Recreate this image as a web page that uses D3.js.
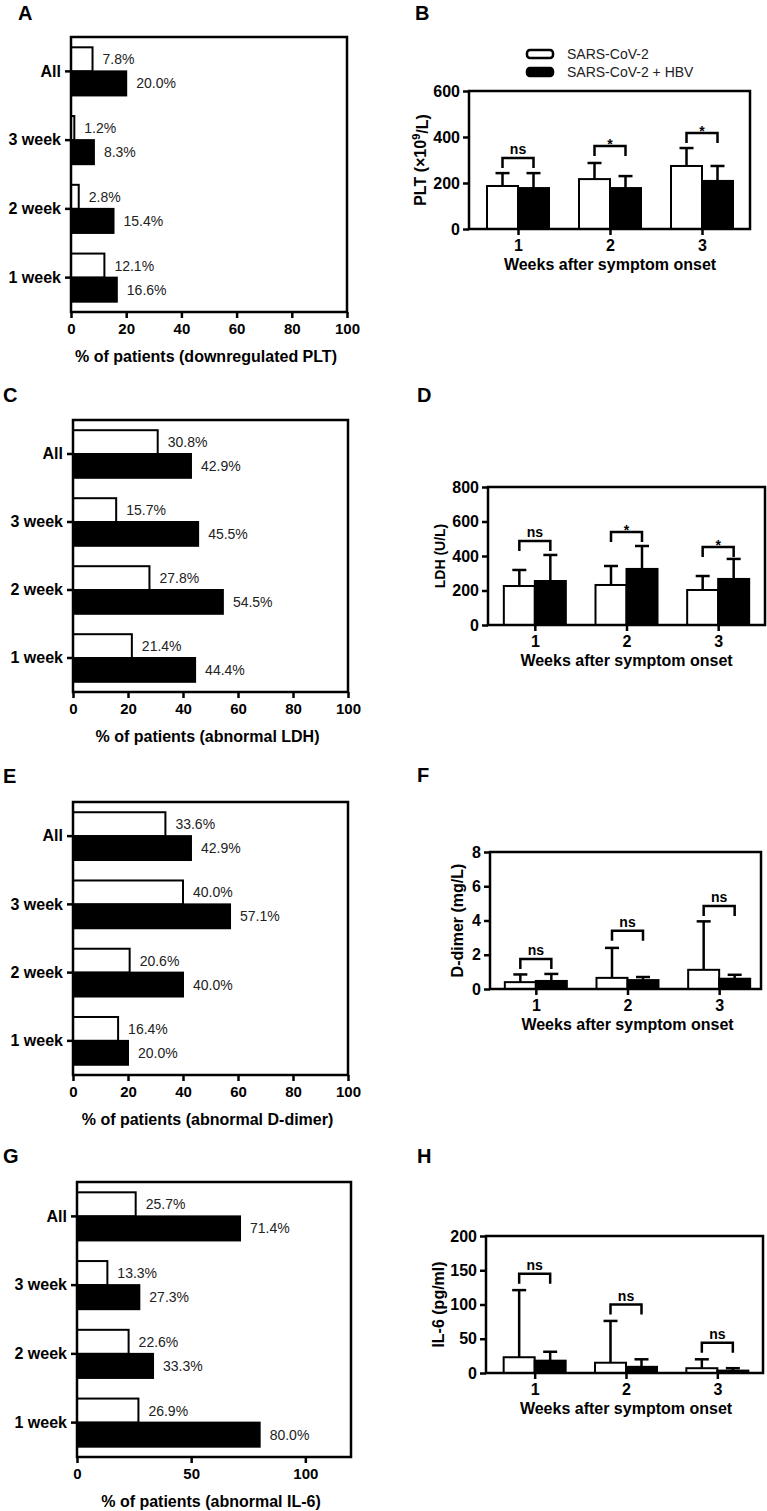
<!DOCTYPE html>
<html>
<head>
<meta charset="utf-8">
<script src="https://cdn.jsdelivr.net/npm/d3@7"></script>
<style>
body { margin: 0; background: #fff; }
svg text { font-family: "Liberation Sans", Arial, Helvetica, sans-serif; }
</style>
</head>
<body>
<svg id="fig" width="767" height="1511"></svg>
<script>
// categories
const weekCats = ["All", "3 week", "2 week", "1 week"];
const weeks = [1, 2, 3];
const groups = ["SARS-CoV-2", "SARS-CoV-2 + HBV"];

// % of patients with abnormal values (white = SARS-CoV-2, black = + HBV)
const pltPctCov = [7.8, 1.2, 2.8, 12.1];
const pltPctHbv = [20.0, 8.3, 15.4, 16.6];
const ldhPctCov = [30.8, 15.7, 27.8, 21.4];
const ldhPctHbv = [42.9, 45.5, 54.5, 44.4];
const ddPctCov = [33.6, 40.0, 20.6, 16.4];
const ddPctHbv = [42.9, 57.1, 40.0, 20.0];
const il6PctCov = [25.7, 13.3, 22.6, 26.9];
const il6PctHbv = [71.4, 27.3, 33.3, 80.0];

// mean and SD by week
const pltCovMean = [187, 217, 274], pltCovSd = [56, 70, 78];
const pltHbvMean = [178, 178, 209], pltHbvSd = [65, 52, 65];
const ldhCovMean = [226, 232, 203], ldhCovSd = [93, 110, 81];
const ldhHbvMean = [255, 325, 267], ldhHbvSd = [151, 133, 116];
const ddCovMean = [0.4, 0.65, 1.12], ddCovSd = [0.45, 1.75, 2.83];
const ddHbvMean = [0.47, 0.52, 0.6], ddHbvSd = [0.41, 0.18, 0.23];
const il6CovMean = [23, 15, 7], il6CovSd = [98, 61, 13];
const il6HbvMean = [18, 9, 3.5], il6HbvSd = [13, 11, 3.5];

// significance marks and bracket heights (data units)
const pltSig = ["ns", "*", "*"], pltBracket = [309, 361, 417];
const ldhSig = ["ns", "*", "*"], ldhBracket = [487, 539, 452];
const ddSig = ["ns", "ns", "ns"], ddBracket = [1.75, 3.4, 4.85];
const il6Sig = ["ns", "ns", "ns"], il6Bracket = [145, 100, 44];

// axis ticks
const pctTicks = [0, 20, 40, 60, 80, 100];
const il6PctTicks = [0, 50, 100];
const pltTicks = [0, 200, 400, 600];
const ldhTicks = [0, 200, 400, 600, 800];
const ddTicks = [0, 2, 4, 6, 8];
const il6Ticks = [0, 50, 100, 150, 200];

const svg = d3.select("#fig");
const LW = 2.5;

function letter(t, x, y) {
    svg.append("text").attr("x", x).attr("y", y)
        .attr("font-size", 20).attr("font-weight", "bold").text(t);
}

// horizontal percentage bars
function hbar(p) {
    const g = svg.append("g");
    const x = d3.scaleLinear().domain([0, p.max]).range([p.x0, p.x1]);
    const y = d3.scaleBand().domain(weekCats).range([p.y0, p.y1])
        .paddingInner(0.3).paddingOuter(0.15);
    const bh = y.bandwidth() / 2;

    const rows = weekCats.map((c, i) => ({ c, a: p.cov[i], b: p.hbv[i] }));

    g.selectAll(".wb").data(rows).join("rect")
        .attr("x", x(0)).attr("y", d => y(d.c))
        .attr("width", d => x(d.a) - x(0)).attr("height", bh)
        .attr("fill", "#fff").attr("stroke", "#000").attr("stroke-width", 2);
    g.selectAll(".bb").data(rows).join("rect")
        .attr("x", x(0)).attr("y", d => y(d.c) + bh)
        .attr("width", d => x(d.b) - x(0)).attr("height", bh)
        .attr("fill", "#000").attr("stroke", "#000").attr("stroke-width", 2);

    g.selectAll(".wl").data(rows).join("text")
        .attr("x", d => x(d.a) + 10).attr("y", d => y(d.c) + bh / 2)
        .attr("dy", "0.36em").attr("font-size", 14).attr("fill", "#222")
        .text(d => d.a.toFixed(1) + "%");
    g.selectAll(".bl").data(rows).join("text")
        .attr("x", d => x(d.b) + 10).attr("y", d => y(d.c) + bh * 1.5)
        .attr("dy", "0.36em").attr("font-size", 14).attr("fill", "#222")
        .text(d => d.b.toFixed(1) + "%");

    g.append("rect").attr("x", p.x0).attr("y", p.y0)
        .attr("width", p.x1 - p.x0).attr("height", p.y1 - p.y0)
        .attr("fill", "none").attr("stroke", "#000").attr("stroke-width", LW);

    const xa = g.append("g").attr("transform", `translate(0,${p.y1})`)
        .call(d3.axisBottom(x).tickValues(p.ticks).tickSize(6).tickPadding(5));
    const ya = g.append("g").attr("transform", `translate(${p.x0},0)`)
        .call(d3.axisLeft(y).tickSize(6).tickPadding(4));
    [xa, ya].forEach(a => {
        a.select(".domain").remove();
        a.selectAll("line").attr("stroke-width", LW);
        a.selectAll("text").attr("font-size", 15).attr("font-weight", "bold")
            .attr("fill", "#000").attr("font-family", null);
    });
    ya.selectAll("text").attr("font-size", 16);

    g.append("text").attr("x", (p.x0 + p.x1) / 2 - 3).attr("y", p.y1 + 50)
        .attr("text-anchor", "middle").attr("font-size", 16)
        .attr("font-weight", "bold").text(p.title);
}

// vertical mean + SD bars
function vbar(p) {
    const g = svg.append("g");
    const x = d3.scalePoint().domain(weeks).range(p.xr).padding(0.5);
    const y = d3.scaleLinear().domain([0, p.ymax]).range([p.y1, p.y0]);
    const bw = 31;

    const rows = weeks.map((w, i) => ({
        w, am: p.covM[i], as: p.covS[i], bm: p.hbvM[i], bs: p.hbvS[i],
        sig: p.sig[i], br: p.br[i]
    }));

    // error bars (upper only)
    const err = [];
    rows.forEach(d => {
        err.push({ cx: x(d.w) - bw / 2, m: d.am, s: d.as });
        err.push({ cx: x(d.w) + bw / 2, m: d.bm, s: d.bs });
    });
    g.selectAll(".ev").data(err).join("line")
        .attr("x1", d => d.cx).attr("x2", d => d.cx)
        .attr("y1", d => y(d.m)).attr("y2", d => y(d.m + d.s))
        .attr("stroke", "#000").attr("stroke-width", LW);
    g.selectAll(".ec").data(err).join("line")
        .attr("x1", d => d.cx - 7).attr("x2", d => d.cx + 7)
        .attr("y1", d => y(d.m + d.s)).attr("y2", d => y(d.m + d.s))
        .attr("stroke", "#000").attr("stroke-width", LW);

    g.selectAll(".wb").data(rows).join("rect")
        .attr("x", d => x(d.w) - bw).attr("y", d => y(d.am))
        .attr("width", bw).attr("height", d => y(0) - y(d.am))
        .attr("fill", "#fff").attr("stroke", "#000").attr("stroke-width", 2);
    g.selectAll(".bb").data(rows).join("rect")
        .attr("x", d => x(d.w)).attr("y", d => y(d.bm))
        .attr("width", bw).attr("height", d => y(0) - y(d.bm))
        .attr("fill", "#000").attr("stroke", "#000").attr("stroke-width", 2);

    // significance brackets
    g.selectAll(".br").data(rows).join("path")
        .attr("d", d => {
            const yy = y(d.br), a = x(d.w) - bw / 2, b = x(d.w) + bw / 2;
            return `M${a},${yy + 10}V${yy}H${b}V${yy + 10}`;
        })
        .attr("fill", "none").attr("stroke", "#000").attr("stroke-width", LW);
    g.selectAll(".sg").data(rows).join("text")
        .attr("x", d => x(d.w)).attr("y", d => y(d.br) + (d.sig === "*" ? 3 : -4))
        .attr("text-anchor", "middle").attr("font-size", 14)
        .attr("font-weight", "bold").text(d => d.sig);

    g.append("rect").attr("x", p.x0).attr("y", p.y0)
        .attr("width", p.x1 - p.x0).attr("height", p.y1 - p.y0)
        .attr("fill", "none").attr("stroke", "#000").attr("stroke-width", LW);

    const xa = g.append("g").attr("transform", `translate(0,${p.y1})`)
        .call(d3.axisBottom(x).tickSize(6).tickPadding(5));
    const ya = g.append("g").attr("transform", `translate(${p.x0},0)`)
        .call(d3.axisLeft(y).tickValues(p.ticks).tickSize(6).tickPadding(3));
    [xa, ya].forEach(a => {
        a.select(".domain").remove();
        a.selectAll("line").attr("stroke-width", LW);
        a.selectAll("text").attr("font-size", 16).attr("font-weight", "bold")
            .attr("fill", "#000").attr("font-family", null);
    });

    g.append("text").attr("x", (p.xr[0] + p.xr[1]) / 2).attr("y", p.y1 + 41)
        .attr("text-anchor", "middle").attr("font-size", 16)
        .attr("font-weight", "bold").text("Weeks after symptom onset");

    const yl = g.append("text")
        .attr("transform", `translate(${p.ylx},${(p.y0 + p.y1) / 2}) rotate(-90)`)
        .attr("dy", "0.36em").attr("text-anchor", "middle")
        .attr("font-size", p.ylfs || 16).attr("font-weight", "bold");
    p.ylab(yl);
}

hbar({ x0: 71, x1: 347, y0: 37, y1: 312, max: 100, ticks: pctTicks,
    cov: pltPctCov, hbv: pltPctHbv, title: "% of patients (downregulated PLT)" });
hbar({ x0: 73, x1: 348, y0: 420, y1: 692, max: 100, ticks: pctTicks,
    cov: ldhPctCov, hbv: ldhPctHbv, title: "% of patients (abnormal LDH)" });
hbar({ x0: 73, x1: 348, y0: 802, y1: 1075, max: 100, ticks: pctTicks,
    cov: ddPctCov, hbv: ddPctHbv, title: "% of patients (abnormal D-dimer)" });
hbar({ x0: 77, x1: 351, y0: 1182, y1: 1457, max: 120, ticks: il6PctTicks,
    cov: il6PctCov, hbv: il6PctHbv, title: "% of patients (abnormal IL-6)" });

vbar({ x0: 469, x1: 750, y0: 91, y1: 229, xr: [472, 748], ymax: 600, ticks: pltTicks,
    covM: pltCovMean, covS: pltCovSd, hbvM: pltHbvMean, hbvS: pltHbvSd,
    sig: pltSig, br: pltBracket, ylx: 420,
    ylab: t => {
        t.append("tspan").text("PLT (×10");
        t.append("tspan").attr("font-size", 11).attr("dy", "-0.5em").text("9");
        t.append("tspan").attr("dy", "0.5em").text("/L)");
    } });
vbar({ x0: 488, x1: 765, y0: 487, y1: 625, xr: [489, 764], ymax: 800, ticks: ldhTicks,
    covM: ldhCovMean, covS: ldhCovSd, hbvM: ldhHbvMean, hbvS: ldhHbvSd,
    sig: ldhSig, br: ldhBracket, ylx: 440, ylfs: 14, ylab: t => t.text("LDH (U/L)") });
vbar({ x0: 490, x1: 761, y0: 852, y1: 989, xr: [490, 765], ymax: 8, ticks: ddTicks,
    covM: ddCovMean, covS: ddCovSd, hbvM: ddHbvMean, hbvS: ddHbvSd,
    sig: ddSig, br: ddBracket, ylx: 457, ylab: t => t.text("D-dimer (mg/L)") });
vbar({ x0: 486, x1: 763, y0: 1236, y1: 1373, xr: [489, 763], ymax: 200, ticks: il6Ticks,
    covM: il6CovMean, covS: il6CovSd, hbvM: il6HbvMean, hbvS: il6HbvSd,
    sig: il6Sig, br: il6Bracket, ylx: 438, ylab: t => t.text("IL-6 (pg/ml)") });

// legend (panel B)
const lg = svg.append("g").attr("transform", "translate(527,50)");
lg.selectAll("rect").data(groups).join("rect")
    .attr("x", 0).attr("y", (d, i) => i * 18)
    .attr("width", 26).attr("height", 8).attr("rx", 3)
    .attr("fill", (d, i) => i ? "#000" : "#fff")
    .attr("stroke", "#000").attr("stroke-width", 2.5);
lg.selectAll("text").data(groups).join("text")
    .attr("x", 40).attr("y", (d, i) => i * 18 + 4).attr("dy", "0.36em")
    .attr("font-size", 14).attr("fill", "#222").text(d => d);

letter("A", 18, 20);
letter("B", 415, 20);
letter("C", 3, 402);
letter("D", 417, 402);
letter("E", 3, 783);
letter("F", 417, 782);
letter("G", 3, 1163);
letter("H", 417, 1163);
</script>
</body>
</html>
